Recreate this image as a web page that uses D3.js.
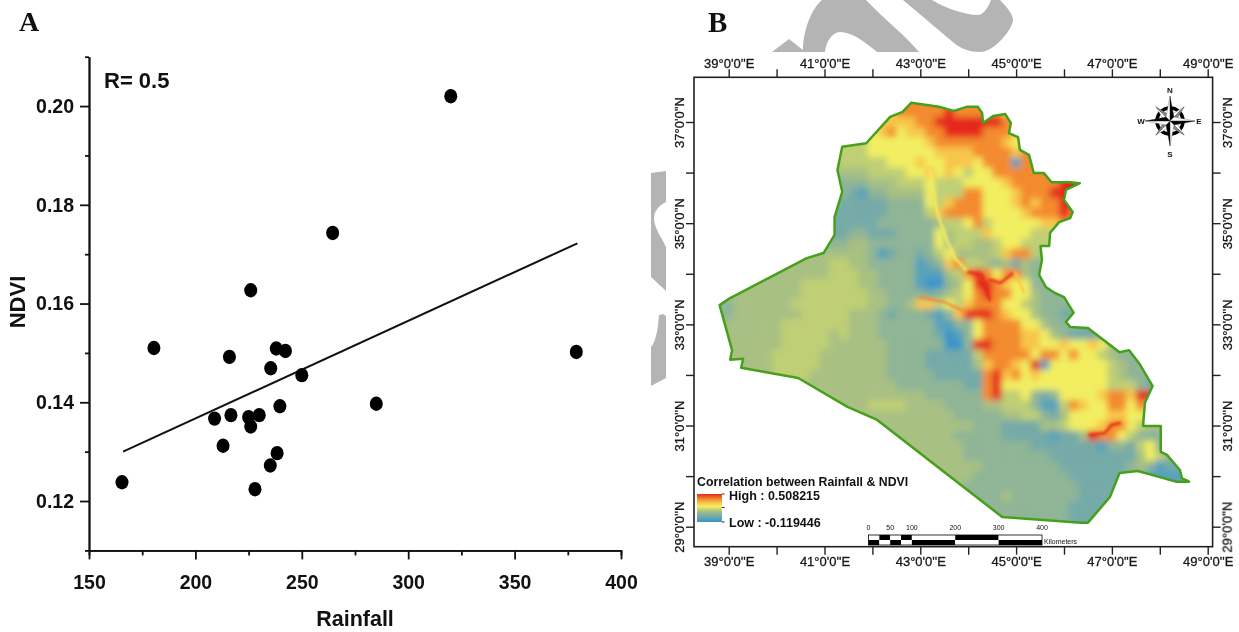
<!DOCTYPE html>
<html>
<head>
<meta charset="utf-8">
<title>Rainfall and NDVI</title>
<script src="https://cdn.jsdelivr.net/npm/d3@7"></script>
<style>
html, body { margin: 0; padding: 0; background: #fff; }
svg { display: block; filter: blur(0.45px); }
text { font-family: "Liberation Sans", Arial, sans-serif; fill: #111; }
</style>
</head>
<body>
<script>
// Panel A values
var rainfall = [165.5, 180.5, 216, 209, 216.7, 213, 225, 230, 226, 239.7, 238.4, 235.2, 228, 235.4, 238, 242.3, 250, 285, 320, 264.5, 226, 379];
var ndvi = [0.1238, 0.151, 0.1492, 0.1367, 0.1374, 0.1312, 0.137, 0.1374, 0.1351, 0.1392, 0.1297, 0.1272, 0.1224, 0.1469, 0.1509, 0.1504, 0.1455, 0.1397, 0.202, 0.1743, 0.1627, 0.1502];
var trendRain = [166, 379.5];
var trendNdvi = [0.13, 0.1722];
var rainTicks = [150, 200, 250, 300, 350, 400];
var rainMinor = [175, 225, 275, 325, 375];
var ndviTicks = [0.12, 0.14, 0.16, 0.18, 0.20];
var ndviMinor = [0.11, 0.13, 0.15, 0.17, 0.19, 0.21];

// Panel B: border of the country as [lon, lat]
var border = [[42.81,37.38],[43.10,37.34],[43.39,37.30],[43.70,37.22],[43.97,37.30],[44.20,37.30],[44.29,37.18],[44.31,36.98],
[44.52,37.12],[44.77,37.16],[44.89,36.98],[44.85,36.78],[45.04,36.70],[45.08,36.45],[45.27,36.35],[45.37,35.99],[45.58,35.99],
[45.74,35.81],[46.13,35.81],[46.33,35.79],[46.04,35.66],[46.00,35.46],[46.18,35.22],[46.13,35.10],[45.90,35.02],[45.71,34.81],
[45.69,34.55],[45.51,34.55],[45.54,34.27],[45.48,33.98],[45.62,33.74],[45.81,33.62],[46.00,33.54],[46.04,33.48],[46.20,33.23],
[46.04,33.05],[46.13,32.95],[46.50,32.93],[47.16,32.45],[47.36,32.49],[47.59,32.20],[47.85,31.78],[47.69,31.45],[47.65,30.99],
[48.02,30.99],[48.02,30.48],[48.15,30.42],[48.42,30.12],[48.46,29.96],[48.61,29.89],[48.35,29.89],[48.00,29.98],[47.54,30.10],
[47.16,30.06],[46.96,29.59],[46.50,29.08],[46.35,29.08],[44.71,29.19],[42.10,31.11],[41.48,31.37],[40.45,31.94],[39.26,32.14],
[39.30,32.32],[39.03,32.30],[39.07,32.49],[38.81,33.38],[39.03,33.52],[40.63,34.31],[40.98,34.41],[41.21,34.77],[41.21,35.12],
[41.37,35.62],[41.27,36.05],[41.37,36.51],[41.87,36.58],[42.37,37.10],[42.63,37.20]];

// correlation, class 0 (low) to 9 (high), one row per 0.2 deg from 37.4N, one char per 0.2 deg from 38.8E
var gridRows = [
"4444444444 5555555578 8888888888 88",
"4444444444 5555555578 8888988888 7777",
"4444444444 5555556777 7889999999 8888",
"4444444444 5555556786 7788999988 8777",
"4444444444 5555556666 6678888888 7666",
"4444444444 5555556666 6667777888 8788",
"4444444444 4445555566 6766777688 8188",
"4444444444 4444445555 6676765668 8888888",
"3333333333 3333334445 5565556666 7888889998",
"3333333333 3333213344 4465558866 6788899988",
"3333333333 3332222233 3365788866 6787889988",
"3333333333 2222222233 3357888866 6678889888",
"3333333333 2222222333 3334556856 6666778888",
"3333333333 2222332223 3336455576 6665555555",
"3333333333 3333443333 3336455445 6655555555",
"4444444444 4444443123 3235644445 7885333333",
"4444444444 4455443333 3123785543 4243333333",
"4444444444 4455544333 3111458986 8843333333",
"4444444445 5555544333 3100346998 7663333333",
"4444444445 5555554433 3323456898 8664333333",
"3344444455 5555554433 4775657888 6654333333",
"3344444445 5555444323 3321379998 7664332233",
"3444444555 5555444333 3331133688 8866433322",
"3444444555 5545444333 3332013688 8877643222 3333",
"4444444555 5544444433 3333003998 8877667667 6433322222",
"4444445555 5444444433 3322222588 8886886866 5433222222",
"4444445555 5444444433 3322222478 8769166666 6543332222",
"4444445555 4444444433 3332222289 7867666666 6543332222",
"4444444444 4444444443 3333332289 6666666666 6555322222",
"4444444444 4444444444 4433333389 5563236666 7887992222",
"4444444444 4444445555 4444333344 5553115876 6886852222",
"4444444444 4444444444 4444433333 4455324666 6776644222",
"4444444444 4444444444 4444444333 2222445666 7886544322",
"4444444444 4444444444 4444433333 2222212249 8865333222",
"4444444444 4444444444 4444443333 3332222222 1332563222",
"4444444444 4444444444 4444443333 3333322222 2222465322",
"4444444444 4444444444 4444444433 3333332222 2223431221",
"4444444444 4444444444 4444444333 3333333222 2223311112",
"4444444444 4444444444 4444443333 3333333322 2222222222",
"4444444444 4444444444 3444433333 4333333322 2222222222",
"4444444444 4444444444 3344433333 3333333222 2222222222",
"4444444444 4444444444 3344333333 3333333222 2222222222",
"4444444444 4444444444 3344333333 3333333222 2222222222"
];
var gridLon0 = 38.8, gridLat0 = 37.4, gridStep = 0.2;
var classColors = ["#3b94cb", "#55a0bd", "#74aaa8", "#8fb596", "#a8c082", "#bfcf74", "#f2ee60", "#f8c64a", "#f38a2f", "#e5281c"];

// legend ramp, bottom to top
var rampOffsets = [0, 0.1, 0.2, 0.3, 0.38, 0.44, 0.55, 0.68, 0.82, 1];

// narrow river strips that the grid is too coarse for: class, then points
var riverClass = [6, 9, 9, 7, 8, 9];
var riverPoints = [
  [[43.20,36.05],[43.34,35.26],[43.51,34.77],[43.72,34.31],[43.99,34.04]],
  [[43.99,34.04],[44.28,33.98],[44.45,33.48]],
  [[44.45,33.88],[44.68,33.82],[44.97,34.04]],
  [[44.97,34.04],[45.16,33.64]],
  [[42.99,33.54],[43.51,33.44],[43.93,33.25]],
  [[46.54,30.81],[46.85,30.85],[46.99,31.01],[47.16,31.05]]
];

var lonTicks = [39, 40, 41, 42, 43, 44, 45, 46, 47, 48, 49];
var latTicks = [37, 36, 35, 34, 33, 32, 31, 30, 29];
var legendLow = -0.119446, legendHigh = 0.508215;
var barKm = [0, 25, 50, 75, 100, 200, 300, 400];
var barLabels = [0, 50, 100, 200, 300, 400];

var svg = d3.select("body").append("svg").attr("width", 1239).attr("height", 632);

// grey watermark behind everything
var wm = svg.append("g").attr("fill", "#b4b4b4");
wm.append("path").attr("d", "M772,52 L789,39 L803,50 C803,30 812,8 822,0 L866,0 C885,20 905,35 919,52 L877,52 C865,42 852,32 840,32 C832,32 826,42 825,52 Z");
wm.append("path").attr("d", "M903,0 L932,0 C945,8 965,15 978,15 C983,15 988,8 991,0 L1000,0 C1008,8 1013,15 1013,20 C1013,28 995,52 980,52 C968,52 958,47 954,43 Z");
wm.append("path").attr("d", "M651,173 L666,171 L666,202 C658,206 654,212 654,218 C654,228 662,238 666,247 L666,291 L651,277 Z");
wm.append("path").attr("d", "M659,315 L663,314 L666,316 L666,378 L651,386 L651,347 C656,342 658,328 659,315 Z");

svg.append("text").attr("x", 19).attr("y", 31).style("font", "bold 28px 'Liberation Serif'").text("A");
svg.append("text").attr("x", 708).attr("y", 32).style("font", "bold 29px 'Liberation Serif'").text("B");

// ---- Panel A ----
var x = d3.scaleLinear().domain([150, 400]).range([89, 621]);
var y = d3.scaleLinear().domain([0.11, 0.21]).range([550.4, 56.7]);

function styleAxis(g) {
  g.selectAll("path, line").attr("stroke", "#111").attr("stroke-width", 1.8);
  g.selectAll("text").style("font", "bold 19.5px 'Liberation Sans'").attr("fill", "#111");
}

svg.append("g").attr("transform", "translate(0,550.4)")
  .call(d3.axisBottom(x).tickValues(rainMinor).tickSize(5).tickFormat("")).call(styleAxis);
svg.append("g").attr("transform", "translate(0,550.4)")
  .call(d3.axisBottom(x).tickValues(rainTicks).tickSize(9).tickSizeOuter(0).tickPadding(16)).call(styleAxis);
svg.append("g").attr("transform", "translate(89,0)")
  .call(d3.axisLeft(y).tickValues(ndviMinor).tickSize(4).tickSizeOuter(0).tickFormat("")).call(styleAxis);
svg.append("g").attr("transform", "translate(89,0)")
  .call(d3.axisLeft(y).tickValues(ndviTicks).tickSize(9).tickSizeOuter(0).tickPadding(6).tickFormat(d3.format(".2f"))).call(styleAxis);

svg.append("line")
  .attr("x1", x(trendRain[0])).attr("y1", y(trendNdvi[0]))
  .attr("x2", x(trendRain[1])).attr("y2", y(trendNdvi[1]))
  .attr("stroke", "#111").attr("stroke-width", 2);

svg.append("g").selectAll("ellipse").data(rainfall).join("ellipse")
  .attr("cx", d => x(d)).attr("cy", (d, i) => y(ndvi[i]))
  .attr("rx", 6.5).attr("ry", 7.2).attr("fill", "#000");

svg.append("text").attr("x", 104).attr("y", 88).style("font", "bold 22px 'Liberation Sans'").text("R= 0.5");
svg.append("text").attr("x", 355).attr("y", 626).attr("text-anchor", "middle").style("font", "bold 21.5px 'Liberation Sans'").text("Rainfall");
svg.append("text").attr("transform", "translate(25,302) rotate(-90)").attr("text-anchor", "middle").style("font", "bold 22px 'Liberation Sans'").text("NDVI");

// ---- Panel B ----
var lonX = d3.scaleLinear().domain([39, 49]).range([728.7, 1207.7]);
var latY = d3.scaleLinear().domain([37, 29]).range([122, 526.7]);
var frame = {left: 694, right: 1212.6, top: 77.3, bottom: 546.7};

var classValue = d => legendLow + d / 9 * (legendHigh - legendLow);
var colour = d3.scaleLinear().domain(classColors.map((c, i) => classValue(i))).range(classColors);

var borderPath = d3.line().x(d => lonX(d[0])).y(d => latY(d[1])).curve(d3.curveLinearClosed);
var defs = svg.append("defs");
defs.append("clipPath").attr("id", "country").append("path").attr("d", borderPath(border));
defs.append("filter").attr("id", "soft").attr("x", "-5%").attr("y", "-5%").attr("width", "110%").attr("height", "110%")
  .append("feGaussianBlur").attr("stdDeviation", 3.4);
defs.append("filter").attr("id", "softer").attr("x", "-10%").attr("y", "-10%").attr("width", "120%").attr("height", "120%")
  .append("feGaussianBlur").attr("stdDeviation", 0.9);

var cells = [];
gridRows.forEach(function(row, r) {
  row.replace(/ /g, "").split("").forEach(function(ch, c) {
    cells.push({lon: gridLon0 + c * gridStep, lat: gridLat0 - r * gridStep, v: classValue(+ch)});
  });
});

var mapClip = svg.append("g").attr("clip-path", "url(#country)");
var mapSoft = mapClip.append("g").attr("filter", "url(#soft)");
var cw = lonX(gridStep) - lonX(0), ch = latY(0) - latY(gridStep);
mapSoft.selectAll("rect").data(cells).join("rect")
  .attr("x", d => lonX(d.lon) - cw / 2).attr("y", d => latY(d.lat) - ch / 2)
  .attr("width", cw + 0.5).attr("height", ch + 0.5)
  .attr("fill", d => colour(d.v));

var riverLine = d3.line().x(d => lonX(d[0])).y(d => latY(d[1]));
mapClip.append("g").attr("filter", "url(#softer)").selectAll("path").data(riverPoints).join("path")
  .attr("d", riverLine).attr("fill", "none")
  .attr("stroke", (d, i) => colour(classValue(riverClass[i])))
  .attr("stroke-width", 3).attr("stroke-linecap", "round").attr("opacity", 0.8);

svg.append("path").attr("d", borderPath(border))
  .attr("fill", "none").attr("stroke", "#46a01c").attr("stroke-width", 2.5).attr("stroke-linejoin", "round");

// frame and graticule ticks
svg.append("rect").attr("x", frame.left).attr("y", frame.top)
  .attr("width", frame.right - frame.left).attr("height", frame.bottom - frame.top)
  .attr("fill", "none").attr("stroke", "#222").attr("stroke-width", 1.6);

var lonLabel = d => d % 2 ? d + "°0'0''E" : "";
var latLabel = d => d % 2 ? d + "°0'0''N" : "";

function styleFrame(g) {
  g.select(".domain").remove();
  g.selectAll("line").attr("stroke", "#222").attr("stroke-width", 1.4);
  g.selectAll("text").style("font", "13px 'Liberation Sans'").attr("stroke", "#222").attr("stroke-width", 0.3).attr("fill", "#222");
}

svg.append("g").attr("transform", "translate(0," + frame.top + ")")
  .call(d3.axisTop(lonX).tickValues(lonTicks).tickSize(8).tickFormat(lonLabel)).call(styleFrame)
  .selectAll("text").attr("y", -9.6).attr("dy", 0);
svg.append("g").attr("transform", "translate(0," + frame.bottom + ")")
  .call(d3.axisBottom(lonX).tickValues(lonTicks).tickSize(8).tickFormat(lonLabel)).call(styleFrame)
  .selectAll("text").attr("y", 19).attr("dy", 0);
svg.append("g").attr("transform", "translate(" + frame.left + ",0)")
  .call(d3.axisLeft(latY).tickValues(latTicks).tickSize(8).tickFormat(latLabel)).call(styleFrame)
  .selectAll("text").attr("transform", "rotate(-90)").attr("x", 0).attr("y", -10).attr("dy", 0).style("text-anchor", "middle");
svg.append("g").attr("transform", "translate(" + frame.right + ",0)")
  .call(d3.axisRight(latY).tickValues(latTicks).tickSize(8).tickFormat(latLabel)).call(styleFrame)
  .selectAll("text").attr("transform", "rotate(-90)").attr("x", 0).attr("y", 19.4).attr("dy", 0).style("text-anchor", "middle");

// legend
var grad = defs.append("linearGradient").attr("id", "ramp").attr("x1", 0).attr("y1", 1).attr("x2", 0).attr("y2", 0);
classColors.forEach(function(c, i) {
  grad.append("stop").attr("offset", rampOffsets[i]).attr("stop-color", c);
});
svg.append("rect").attr("x", 697).attr("y", 494).attr("width", 25).attr("height", 28).attr("fill", "url(#ramp)");
[494, 507.5, 522].forEach(function(v) {
  svg.append("line").attr("x1", 722).attr("x2", 724.5).attr("y1", v).attr("y2", v).attr("stroke", "#222");
});
svg.append("text").attr("x", 697).attr("y", 486).style("font", "bold 12.3px 'Liberation Sans'").attr("fill", "#222").text("Correlation between Rainfall & NDVI");
svg.append("text").attr("x", 729).attr("y", 499.5).style("font", "bold 12.5px 'Liberation Sans'").text("High : " + legendHigh);
svg.append("text").attr("x", 729).attr("y", 526.5).style("font", "bold 12.5px 'Liberation Sans'").text("Low : " + legendLow);

// scale bar
var km = d3.scaleLinear().domain([0, 400]).range([868.5, 1042]);
var barSeg = d3.pairs(barKm);
var bar = svg.append("g");
bar.selectAll("rect.up").data(barSeg).join("rect").attr("class", "up")
  .attr("x", d => km(d[0])).attr("y", 535).attr("width", d => km(d[1]) - km(d[0])).attr("height", 5)
  .attr("fill", (d, i) => i % 2 ? "#000" : "#fff");
bar.selectAll("rect.down").data(barSeg).join("rect").attr("class", "down")
  .attr("x", d => km(d[0])).attr("y", 540).attr("width", d => km(d[1]) - km(d[0])).attr("height", 5)
  .attr("fill", (d, i) => i % 2 ? "#fff" : "#000");
bar.append("rect").attr("x", km(0)).attr("y", 535).attr("width", km(400) - km(0)).attr("height", 10)
  .attr("fill", "none").attr("stroke", "#000").attr("stroke-width", 0.8);
bar.selectAll("text.km").data(barLabels).join("text").attr("class", "km")
  .attr("x", d => km(d)).attr("y", 530).attr("text-anchor", "middle")
  .style("font", "7px 'Liberation Sans'").attr("fill", "#333").text(d => d);
bar.append("text").attr("x", 1044).attr("y", 544).style("font", "7px 'Liberation Sans'").attr("fill", "#444").text("Kilometers");

// north arrow
var nc = {x: 1170, y: 121};
var compass = svg.append("g").attr("transform", "translate(" + nc.x + "," + nc.y + ")");
function blade(angle, len, wid, leftFill, rightFill) {
  var g = compass.append("g").attr("transform", "rotate(" + angle + ")");
  g.append("path").attr("d", "M0,0 L" + (-wid) + "," + (-wid) + " L0," + (-len) + " Z").attr("fill", leftFill).attr("stroke", "#333").attr("stroke-width", 0.3);
  g.append("path").attr("d", "M0,0 L" + wid + "," + (-wid) + " L0," + (-len) + " Z").attr("fill", rightFill).attr("stroke", "#333").attr("stroke-width", 0.3);
}
compass.append("circle").attr("r", 13).attr("fill", "none").attr("stroke", "#000").attr("stroke-width", 3.5);
[45, 135, 225, 315].forEach(a => blade(a, 20, 4, "#fff", "#888"));
[0, 90, 180, 270].forEach(a => blade(a, 25, 4, "#fff", "#000"));
[["N", 0, -31], ["S", 0, 33], ["W", -29, 0], ["E", 29, 0]].forEach(function(d) {
  compass.append("text").attr("x", d[1]).attr("y", d[2]).attr("dy", "0.35em").attr("text-anchor", "middle")
    .style("font", "bold 8px 'Liberation Sans'").text(d[0]);
});
</script>
</body>
</html>
